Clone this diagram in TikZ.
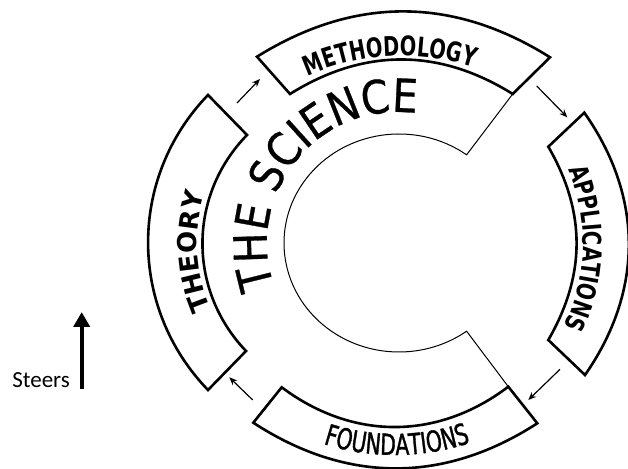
\documentclass[tikz,border=0pt]{standalone}
\usepackage{fontspec}
\setmainfont{DejaVu Sans}
\newfontfamily\sciencefont[FakeStretch=0.88,FakeBold=0.6]{DejaVu Sans}
\newfontfamily\theoryfont{DejaVu Sans}
\newfontfamily\methfont[FakeStretch=0.72]{DejaVu Sans}
\newfontfamily\applfont[FakeStretch=0.76]{DejaVu Sans}
\newfontfamily\foundfont[FakeStretch=0.70,FakeBold=1.2]{DejaVu Sans}
\newfontfamily\steersfont{Carlito}
\usetikzlibrary{arrows.meta,decorations.text,calc}
\begin{document}
\begin{tikzpicture}[x=1pt,y=1pt,
  boxline/.style={line width=2.6pt, line join=miter},
  thinline/.style={line width=1pt},
  flowarrow/.style={line width=1.2pt, -{Stealth[length=8pt,width=6.5pt]}},
  steerarrow/.style={line width=4pt, -{Triangle[length=15pt,width=16pt]}},
]
\useasboundingbox (0,0) rectangle (628,468);

% ---- box corners
\coordinate (tho1) at (208,373);
\coordinate (thi1) at (247,333);
\coordinate (thi2) at (246,117);
\coordinate (tho2) at (208,78);

\coordinate (mo1) at (257,411.3);
\coordinate (mo2) at (550,410.7);
\coordinate (mi2) at (512.7,374);
\coordinate (mi1) at (290,374);

\coordinate (ao1) at (584.3,355.3);
\coordinate (ao2) at (585,93);
\coordinate (ai2) at (548.3,128);
\coordinate (ai1) at (548.3,321.3);

\coordinate (fo1) at (253.3,45.3);
\coordinate (fo2) at (537.3,44.7);
\coordinate (fi2) at (508.3,81.3);
\coordinate (fi1) at (281.7,80.7);

% ---- boxes
\draw[boxline] (tho1) to[bend right=44] (tho2) -- (thi2) to[bend left=44] (thi1) -- cycle;
\draw[boxline] (mo1) to[bend left=32] (mo2) -- (mi2) to[bend right=32] (mi1) -- cycle;
\draw[boxline] (ao1) to[bend left=35] (ao2) -- (ai2) to[bend right=30] (ai1) -- cycle;
\draw[boxline] (fo1) to[bend right=33] (fo2) -- (fi2) to[bend left=37] (fi1) -- cycle;

% ---- the C shaped inner boundary
\draw[thinline] (mi2) -- ([shift={(399,225)}]54:115 and 109)
  arc[start angle=54, end angle=306, x radius=115, y radius=109] -- (fi2);

% ---- flow arrows
\coordinate (a1s) at (237,365);   \coordinate (a1e) at (260,389);
\coordinate (a2s) at (536.7,382); \coordinate (a2e) at (567.3,350.7);
\coordinate (a3s) at (560,98.7);  \coordinate (a3e) at (528.3,68);
\coordinate (a4s) at (252.7,68);  \coordinate (a4e) at (229.3,90.7);
\draw[flowarrow] (a1s) -- (a1e);
\draw[flowarrow] (a2s) -- (a2e);
\draw[flowarrow] (a3s) -- (a3e);
\draw[flowarrow] (a4s) -- (a4e);

% ---- labels along arcs
\begin{scope}[shift={(398,225)}]
\path[decorate, decoration={text along path, text align=center,
  text={|\sciencefont\fontsize{46}{46}\selectfont|THE SCIENCE}}]
  (215:131) arc[start angle=215, end angle=66, radius=131];
\end{scope}

\begin{scope}[shift={(360,225)}]
\path[decorate, decoration={text along path, text align=center,
  text={|\theoryfont\bfseries\fontsize{26}{26}\selectfont|THEORY}}]
  (233:163) arc[start angle=233, end angle=133, radius=163];
\end{scope}

\begin{scope}[shift={(402,183)}]
\path[decorate, decoration={text along path, text align=center,
  text={|\methfont\bfseries\fontsize{27}{27}\selectfont|METHODOLOGY}}]
  (126:229) arc[start angle=126, end angle=60, radius=229];
\end{scope}

\begin{scope}[shift={(390,224.5)}]
\path[decorate, decoration={text along path, text align=center,
  text={|\applfont\bfseries\fontsize{26}{26}\selectfont|APPLICATIONS}}]
  (31:193) arc[start angle=31, end angle=-34, radius=193];
\end{scope}

\begin{scope}[shift={(395,248)}]
\path[decorate, decoration={text along path, text align=center,
  text={|\foundfont\fontsize{29}{29}\selectfont|FOUNDATIONS}}]
  (230:235) arc[start angle=230, end angle=311, radius=235];
\end{scope}

% ---- steers
\node[font=\steersfont\fontsize{23}{23}\selectfont, anchor=base east, inner sep=0pt] (steers) at (70,80) {Steers};
\coordinate (stbot) at (81.7,79);
\coordinate (sttop) at (81.7,156);
\draw[steerarrow] (stbot) -- (sttop);
\end{tikzpicture}
\end{document}
